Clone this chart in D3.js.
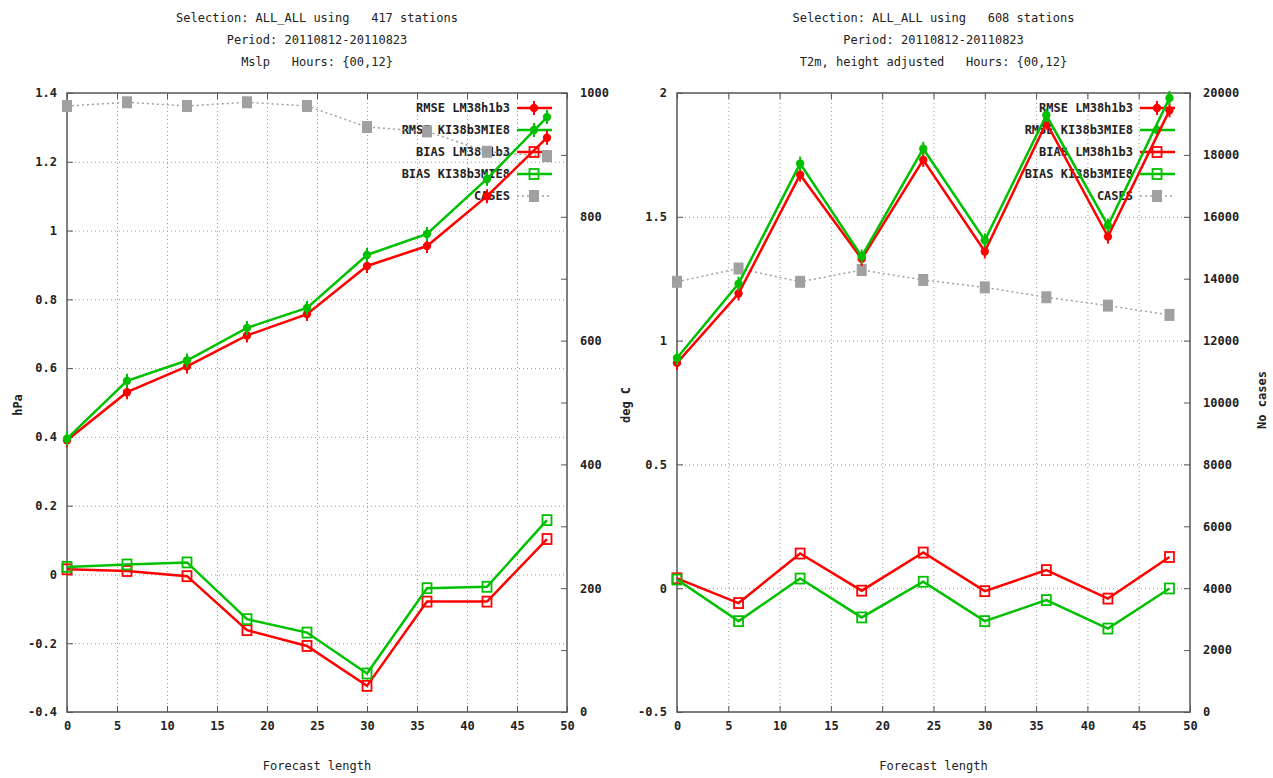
<!DOCTYPE html>
<html>
<head>
<meta charset="utf-8">
<script src="https://cdn.jsdelivr.net/npm/d3@7"></script>
<style>
  body { margin: 0; background: #fff; }
  svg text { font-family: "DejaVu Sans Mono", monospace; font-size: 12px; fill: #222; }
</style>
</head>
<body>
<svg id="chart"></svg>
<script>
// forecast lengths (hours)
const leadTimes = [0, 6, 12, 18, 24, 30, 36, 42, 48];

// left panel: mean sea level pressure
const mslpRmseLM = [0.39, 0.53, 0.605, 0.695, 0.757, 0.897, 0.955, 1.10, 1.27];
const mslpRmseKI = [0.395, 0.563, 0.622, 0.717, 0.775, 0.929, 0.99, 1.15, 1.33];
const mslpBiasLM = [0.015, 0.01, -0.005, -0.162, -0.208, -0.324, -0.079, -0.079, 0.103];
const mslpBiasKI = [0.022, 0.029, 0.035, -0.13, -0.169, -0.288, -0.04, -0.036, 0.158];
const mslpCases = [979, 985, 979, 985, 979, 945, 938, 905, 898];

// right panel: 2m temperature
const t2mRmseLM = [0.91, 1.19, 1.67, 1.33, 1.73, 1.36, 1.88, 1.42, 1.93];
const t2mRmseKI = [0.93, 1.23, 1.715, 1.34, 1.775, 1.405, 1.91, 1.465, 1.98];
const t2mBiasLM = [0.04, -0.06, 0.14, -0.01, 0.144, -0.012, 0.073, -0.042, 0.126];
const t2mBiasKI = [0.035, -0.133, 0.039, -0.118, 0.026, -0.133, -0.048, -0.163, -0.001];
const t2mCases = [13900, 14330, 13900, 14280, 13960, 13720, 13400, 13130, 12830];

// ticks
const xTicks = [0, 5, 10, 15, 20, 25, 30, 35, 40, 45, 50];
const hpaTicks = [-0.4, -0.2, 0, 0.2, 0.4, 0.6, 0.8, 1, 1.2, 1.4];
const mslpCaseTicks = [0, 100, 200, 300, 400, 500, 600, 700, 800, 900, 1000];
const degTicks = [-0.5, 0, 0.5, 1, 1.5, 2];
const t2mCaseTicks = [0, 2000, 4000, 6000, 8000, 10000, 12000, 14000, 16000, 18000, 20000];

const legendNames = ["RMSE LM38h1b3", "RMSE KI38b3MIE8", "BIAS LM38h1b3", "BIAS KI38b3MIE8", "CASES"];

const RED = "#ff0000", GREEN = "#00c000", GRAY = "#a0a0a0";

const svg = d3.select("#chart").attr("width", 1273).attr("height", 778);

const fmt = d => String(Math.round(d * 10) / 10);

function drawPanel(p) {
    const x = d3.scaleLinear().domain([0, 50]).range([p.left, p.right]);
    const y = d3.scaleLinear().domain(p.yDomain).range([712, 93]);
    const y2 = d3.scaleLinear().domain(p.y2Domain).range([712, 93]);
    const g = svg.append("g");

    // grid
    g.append("g")
        .attr("transform", "translate(0,712)")
        .call(d3.axisBottom(x).tickValues(xTicks.slice(1, -1)).tickSize(-619).tickFormat(""))
        .call(a => a.select(".domain").remove())
        .selectAll("line").attr("stroke", "#999").attr("stroke-dasharray", "1,3");
    g.append("g")
        .attr("transform", `translate(${p.left},0)`)
        .call(d3.axisLeft(y).tickValues(p.yTicks.slice(1, -1)).tickSize(-(p.right - p.left)).tickFormat(""))
        .call(a => a.select(".domain").remove())
        .selectAll("line").attr("stroke", "#999").attr("stroke-dasharray", "1,3");

    // frame
    g.append("rect")
        .attr("x", p.left).attr("y", 93)
        .attr("width", p.right - p.left).attr("height", 619)
        .attr("fill", "none").attr("stroke", "#555").attr("stroke-width", 1.5);

    // axes
    const styleAxis = a => {
        a.select(".domain").remove();
        a.selectAll("line").attr("stroke", "#555");
        a.selectAll("text").style("font-weight", "bold");
    };
    g.append("g").attr("transform", "translate(0,712)")
        .call(d3.axisBottom(x).tickValues(xTicks).tickSize(-6).tickPadding(9).tickFormat(d3.format("d")))
        .call(styleAxis);
    g.append("g").attr("transform", "translate(0,93)")
        .call(d3.axisTop(x).tickValues(xTicks).tickSize(-6).tickFormat(""))
        .call(styleAxis);
    g.append("g").attr("transform", `translate(${p.left},0)`)
        .call(d3.axisLeft(y).tickValues(p.yTicks).tickSize(-6).tickPadding(10).tickFormat(fmt))
        .call(styleAxis);
    g.append("g").attr("transform", `translate(${p.right},0)`)
        .call(d3.axisRight(y2).tickValues(p.y2Ticks).tickSize(-6).tickPadding(13)
            .tickFormat(d => (p.y2Labelled(d) ? d : "")))
        .call(styleAxis)
        .selectAll("text").attr("text-anchor", "start");

    // titles
    const cx = (p.left + p.right) / 2;
    p.title.forEach((t, i) => {
        g.append("text").attr("x", cx).attr("y", 22 + i * 22)
            .attr("text-anchor", "middle").style("white-space", "pre").text(t);
    });
    g.append("text").attr("x", cx).attr("y", 770).attr("text-anchor", "middle").text("Forecast length");
    g.append("text").attr("transform", `translate(${p.yLabelX},405) rotate(-90)`)
        .attr("text-anchor", "middle").style("font-weight", "bold").text(p.yLabel);
    if (p.y2Label) {
        g.append("text").attr("transform", `translate(${p.y2LabelX},400) rotate(-90)`)
            .attr("text-anchor", "middle").style("font-weight", "bold").text(p.y2Label);
    }

    // legend
    const styles = [
        { color: RED, marker: "dot" }, { color: GREEN, marker: "dot" },
        { color: RED, marker: "box" }, { color: GREEN, marker: "box" },
        { color: GRAY, marker: "case" }
    ];
    const leg = g.append("g");
    legendNames.forEach((name, i) => {
        const ly = 108 + i * 22;
        leg.append("text").attr("x", p.right - 57).attr("y", ly + 4)
            .attr("text-anchor", "end").style("font-weight", "bold").text(name);
        leg.append("line").attr("x1", p.right - 50).attr("x2", p.right - 15)
            .attr("y1", ly).attr("y2", ly)
            .attr("stroke", styles[i].color)
            .attr("stroke-width", styles[i].marker === "case" ? 1.5 : 2.5)
            .attr("stroke-dasharray", styles[i].marker === "case" ? "2,3" : null);
        drawMarker(leg, styles[i], p.right - 33, ly);
    });

    // series
    const series = [
        { vals: p.cases, scale: y2, style: styles[4] },
        { vals: p.biasLM, scale: y, style: styles[2] },
        { vals: p.biasKI, scale: y, style: styles[3] },
        { vals: p.rmseLM, scale: y, style: styles[0] },
        { vals: p.rmseKI, scale: y, style: styles[1] }
    ];
    series.forEach(s => {
        const pts = leadTimes.map((t, i) => [x(t), s.scale(s.vals[i])]);
        g.append("path").attr("d", d3.line()(pts))
            .attr("fill", "none").attr("stroke", s.style.color)
            .attr("stroke-width", s.style.marker === "case" ? 1.5 : 2.5)
            .attr("stroke-dasharray", s.style.marker === "case" ? "2,3" : null);
        pts.forEach(pt => drawMarker(g, s.style, pt[0], pt[1]));
    });
}

function drawMarker(sel, style, cx, cy) {
    if (style.marker === "dot") {
        sel.append("path").attr("transform", `translate(${cx},${cy})`)
            .attr("d", d3.symbol(d3.symbolCircle, 55)()).attr("fill", style.color);
        sel.append("line").attr("x1", cx).attr("x2", cx).attr("y1", cy - 7).attr("y2", cy + 7)
            .attr("stroke", style.color).attr("stroke-width", 2);
    } else if (style.marker === "box") {
        sel.append("rect").attr("x", cx - 4.5).attr("y", cy - 5).attr("width", 9).attr("height", 10)
            .attr("fill", "none").attr("stroke", style.color).attr("stroke-width", 1.8);
    } else {
        sel.append("rect").attr("x", cx - 5).attr("y", cy - 6).attr("width", 10).attr("height", 12)
            .attr("fill", style.color);
    }
}

drawPanel({
    left: 67, right: 567,
    yDomain: [-0.4, 1.4], yTicks: hpaTicks,
    y2Domain: [0, 1000], y2Ticks: mslpCaseTicks, y2Labelled: d => d % 200 === 0,
    title: ["Selection: ALL_ALL using   417 stations", "Period: 20110812-20110823", "Mslp   Hours: {00,12}"],
    yLabel: "hPa", yLabelX: 22,
    y2Label: null,
    rmseLM: mslpRmseLM, rmseKI: mslpRmseKI, biasLM: mslpBiasLM, biasKI: mslpBiasKI, cases: mslpCases
});

drawPanel({
    left: 677, right: 1190,
    yDomain: [-0.5, 2], yTicks: degTicks,
    y2Domain: [0, 20000], y2Ticks: t2mCaseTicks, y2Labelled: d => true,
    title: ["Selection: ALL_ALL using   608 stations", "Period: 20110812-20110823", "T2m, height adjusted   Hours: {00,12}"],
    yLabel: "deg C", yLabelX: 630,
    y2Label: "No cases", y2LabelX: 1266,
    rmseLM: t2mRmseLM, rmseKI: t2mRmseKI, biasLM: t2mBiasLM, biasKI: t2mBiasKI, cases: t2mCases
});
</script>
</body>
</html>
